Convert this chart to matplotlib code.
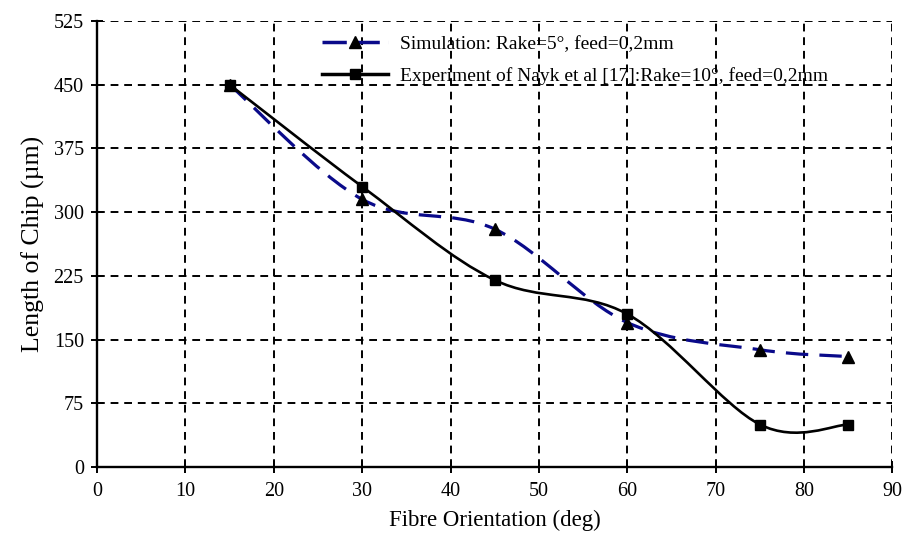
import numpy as np
import matplotlib
matplotlib.use("Agg")
import matplotlib.pyplot as plt
from matplotlib.path import Path
from matplotlib.patches import PathPatch
from matplotlib.lines import Line2D

# data
fibre_deg = [15, 30, 45, 60, 75, 85]
sim_len = [450, 315, 280, 170, 138, 130]
exp_len = [450, 330, 220, 180, 50, 50]

sim_label = "Simulation: Rake=5°, feed=0,2mm"
exp_label = "Experiment of Nayk et al [17]:Rake=10°, feed=0,2mm"

x_ticks = list(range(0, 91, 10))
y_ticks = list(range(0, 526, 75))

plt.rcParams['font.family'] = ['Liberation Serif', 'DejaVu Serif']


def smooth_path(xs, ys):
    # Excel-like smoothed line: cubic bezier segments through the points
    pts = np.column_stack([xs, ys]).astype(float)
    n = len(pts)
    verts = [pts[0]]
    codes = [Path.MOVETO]
    for i in range(n - 1):
        p0 = pts[i - 1] if i > 0 else pts[i]
        p1 = pts[i]
        p2 = pts[i + 1]
        p3 = pts[i + 2] if i + 2 < n else pts[i + 1]
        c1 = p1 + (p2 - p0) / 6.
        c2 = p2 - (p3 - p1) / 6.
        verts += [c1, c2, p2]
        codes += [Path.CURVE4] * 3
    return Path(verts, codes)


fig = plt.figure(figsize=(9.07, 5.38), dpi=100)
ax = fig.add_axes([0.107, 0.132, 0.877, 0.829])
ax.set_xlim(0, 90)
ax.set_ylim(0, 525)
ax.set_xticks(x_ticks)
ax.set_yticks(y_ticks)
ax.grid(True, color='black', linestyle=(0, (4, 3)), linewidth=1.4)
ax.set_axisbelow(True)
for s in ['top', 'right']:
    ax.spines[s].set_visible(False)
for s in ['left', 'bottom']:
    ax.spines[s].set_linewidth(1.7)
ax.tick_params(direction='inout', length=9, width=1.4, labelsize=14.5)
ax.tick_params(axis='x', pad=6)
ax.tick_params(axis='y', pad=5)
ax.set_xlabel('Fibre Orientation (deg)', fontsize=16.5, labelpad=7)
ax.set_ylabel('Length of Chip (µm)', fontsize=18.5, labelpad=6)

sim_color = '#0a0a8a'
ax.add_patch(PathPatch(smooth_path(fibre_deg, sim_len), fill=False,
                       edgecolor=sim_color, linewidth=2.3,
                       linestyle=(0, (7, 3.5)), zorder=3))
ax.add_patch(PathPatch(smooth_path(fibre_deg, exp_len), fill=False,
                       edgecolor='black', linewidth=1.9, zorder=3))
ax.plot(fibre_deg, sim_len, linestyle='none', marker='^', color='black',
        markersize=8, zorder=4, clip_on=False)
ax.plot(fibre_deg, exp_len, linestyle='none', marker='s', color='black',
        markersize=7, zorder=4, clip_on=False)

handles = [
    Line2D([], [], color=sim_color, linewidth=2.5, linestyle=(0, (7, 2.5)),
           marker='^', markerfacecolor='black', markeredgecolor='black', markersize=8),
    Line2D([], [], color='black', linewidth=2.5, marker='s', markersize=7),
]
leg = fig.legend(handles, [sim_label, exp_label], loc='upper left',
                 bbox_to_anchor=(0.342, 0.956), frameon=False, fontsize=14,
                 handlelength=3.4, handletextpad=0.6, labelspacing=0.72,
                 borderpad=0.1)
leg.set_zorder(5)

fig.savefig('out.png', dpi=100)
